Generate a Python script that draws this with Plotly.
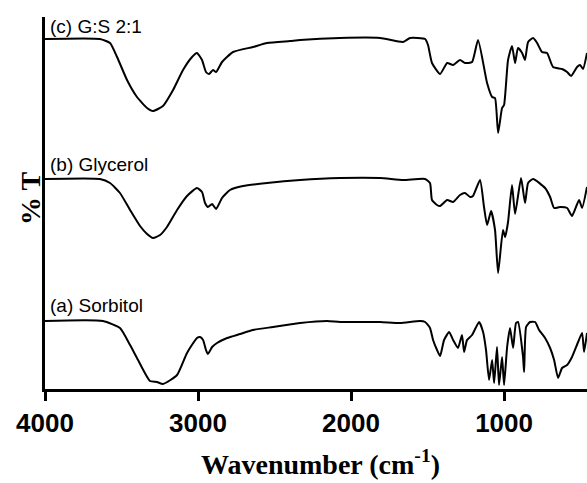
import plotly.graph_objects as go

# Wavenumber (cm-1) and transmittance (arbitrary, offset-stacked units)
wn_c = [4000, 3641, 3575, 3529, 3464, 3399, 3333, 3294, 3229, 3163, 3098, 3039, 3007, 2974,
        2948, 2928, 2902, 2882, 2843, 2771, 2641, 2549, 2399, 2333, 2072, 1810, 1660, 1614,
        1516, 1497, 1471, 1418, 1372, 1333, 1288, 1255, 1209, 1170, 1111, 1078, 1059, 1039,
        1013, 1000, 974, 948, 928, 909, 882, 863, 843, 810, 784, 752, 719, 680, 621, 588,
        562, 523, 503, 484, 458]
t_c = [350, 350, 346, 332, 309, 292, 281, 278, 283, 299, 319, 332, 336, 329,
       317, 315, 319, 317, 327, 337, 342, 346, 348, 349, 351, 351, 347, 351,
       350, 344, 326, 315, 326, 324, 329, 326, 327, 349, 306, 292, 291, 256,
       281, 284, 329, 343, 326, 341, 336, 329, 347, 351, 346, 337, 336, 322, 320, 317,
       313, 322, 324, 320, 336]

wn_b = [4000, 3641, 3575, 3510, 3444, 3379, 3333, 3294, 3248, 3203, 3137, 3072, 3007, 2974,
        2954, 2935, 2908, 2882, 2843, 2791, 2706, 2549, 2333, 2072, 1810, 1660, 1516, 1484,
        1471, 1438, 1418, 1372, 1333, 1288, 1255, 1222, 1203, 1157, 1131, 1111, 1085, 1059,
        1039, 1007, 993, 974, 948, 928, 889, 863, 843, 810, 732, 699, 673, 634, 588, 556,
        510, 490, 458]
t_b = [210, 210, 206, 196, 179, 163, 155, 151, 154, 162, 179, 193, 201, 197,
       186, 182, 185, 180, 191, 199, 203, 206, 209, 211, 211, 209, 210, 206,
       189, 184, 183, 189, 187, 194, 196, 192, 193, 209, 182, 164, 178, 159,
       116, 159, 152, 167, 204, 175, 211, 186, 206, 210, 201, 192, 181, 182, 181, 173,
       189, 181, 202]

wn_a = [4000, 3621, 3510, 3444, 3392, 3314, 3268, 3229, 3137, 3072, 3007, 2987, 2967, 2948,
        2935, 2908, 2876, 2810, 2725, 2641, 2510, 2379, 2333, 2157, 2072, 1810, 1680, 1549,
        1516, 1484, 1464, 1438, 1418, 1392, 1359, 1333, 1301, 1275, 1261, 1242, 1209, 1163,
        1137, 1118, 1098, 1078, 1065, 1046, 1033, 1013, 1000, 980, 961, 941, 922, 909,
        876, 869, 856, 830, 797, 771, 732, 699, 673, 647, 621, 588, 556, 516, 490, 477, 458]
t_a = [68, 68, 61, 44, 29, 8, 7, 5, 14, 36, 51, 52, 49, 39,
       35, 42, 46, 51, 55, 59, 62, 65, 66, 68, 67, 67, 66, 68,
       67, 61, 49, 39, 33, 49, 57, 49, 41, 54, 37, 49, 54, 67,
       57, 39, 9, 29, 6, 42, 4, 32, 4, 42, 61, 41, 66, 67,
       32, 17, 62, 67, 67, 59, 51, 41, 29, 11, 21, 24, 32, 47, 56, 37, 56]

labels = ["(c) G:S 2:1", "(b) Glycerol", "(a) Sorbitol"]
label_y = [363, 225, 84]

x_ticks = [4000, 3000, 2000, 1000]

fig = go.Figure()
for wn, t in [(wn_c, t_c), (wn_b, t_b), (wn_a, t_a)]:
    fig.add_trace(go.Scatter(x=wn, y=t, mode="lines",
                             line=dict(color="black", width=2, shape="spline", smoothing=0.5),
                             showlegend=False, hoverinfo="skip"))

for lab, ly in zip(labels, label_y):
    fig.add_annotation(x=3978, y=ly, xref="x", yref="y", text=lab, showarrow=False,
                       xanchor="left", yanchor="middle",
                       font=dict(family="Liberation Sans, Arial", size=19, color="black"))

fig.add_annotation(x=0.5, y=0, xref="paper", yref="paper", xshift=4, yshift=-73,
                   text="<b>Wavenumber (cm<sup>-1</sup>)</b>", showarrow=False,
                   xanchor="center", yanchor="middle",
                   font=dict(family="Liberation Serif, Times New Roman", size=28, color="black"))
fig.add_annotation(x=0, y=0.5, xref="paper", yref="paper", xshift=-15, yshift=4,
                   text="<b>% T</b>", showarrow=False, textangle=-90,
                   xanchor="center", yanchor="middle",
                   font=dict(family="Liberation Serif, Times New Roman", size=28, color="black"))

fig.update_layout(
    width=587, height=483,
    margin=dict(l=45, r=0, t=17, b=94),
    paper_bgcolor="white", plot_bgcolor="white",
    xaxis=dict(range=[4000, 458], tickvals=x_ticks, ticktext=[f"<b>{v}</b>" for v in x_ticks],
               showline=True, linecolor="black", linewidth=3, ticks="outside",
               ticklen=9, tickwidth=3, tickcolor="black", showgrid=False, zeroline=False,
               tickfont=dict(family="Liberation Sans, Arial", size=26, color="black")),
    yaxis=dict(range=[0, 372], showline=True, linecolor="black", linewidth=3,
               showticklabels=False, ticks="", showgrid=False, zeroline=False),
)

fig.write_html("out.html", config={"displayModeBar": False},
               post_script="document.body.style.margin='0';")
